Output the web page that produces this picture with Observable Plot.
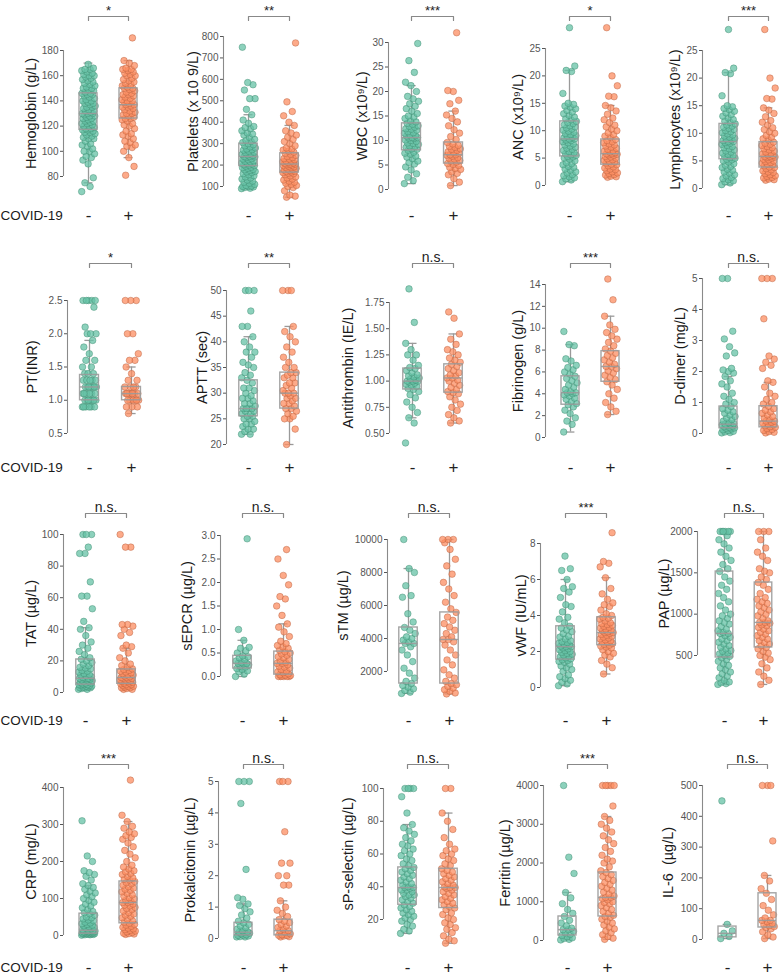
<!DOCTYPE html>
<html>
<head>
<meta charset="utf-8">
<script src="https://cdn.jsdelivr.net/npm/d3@7"></script>
<script src="https://cdn.jsdelivr.net/npm/@observablehq/plot@0.6"></script>
<style>
  html, body { margin: 0; padding: 0; background: #fff; }
  #wrap { position: relative; width: 781px; height: 979px; overflow: hidden; background: #fff; }
</style>
</head>
<body>
<div id="wrap"></div>
<script>
// ---------------- DATA ----------------
const groups = ["-", "+"];
const groupLabel = "COVID-19";

// box stats: [lower whisker, Q1, median, Q3, upper whisker]
const hemoglobinNeg = [68,72,75,79,90,93,95,96,98,100,100,102,104,105,106,108,110,110,111,112,113,114,115,115,116,117,117,118,118,119,120,120,121,122,122,123,124,124,125,126,126,127,128,128,129,130,130,130,131,132,132,133,134,135,135,136,137,138,138,139,140,140,141,142,143,144,145,145,146,146,147,148,149,150,150,151,152,153,154,155,156,157,158,159,160,160,161,162,163,164,165,165,166,169];
const hemoglobinPos = [81,88,95,100,103,104,105,107,108,110,112,113,114,116,118,120,121,122,124,125,126,126,127,128,129,130,130,131,132,133,134,135,135,136,137,137,138,139,140,140,141,142,143,144,145,145,146,147,148,149,150,150,151,152,153,154,155,156,157,158,160,160,161,162,163,164,165,165,166,168,170,172,190];
const hemoglobinBoxNeg = [75,117,130,146,170];
const hemoglobinBoxPos = [95,126,137,150,172];

const plateletsNeg = [90,92,95,98,100,100,102,105,110,115,120,125,130,135,140,145,150,155,160,165,168,170,175,178,180,185,188,190,195,198,200,202,205,208,210,215,218,220,225,228,230,235,238,240,240,245,248,250,255,258,260,265,270,272,275,280,285,290,295,300,305,310,315,320,330,340,345,350,360,370,375,380,395,410,435,460,510,510,550,575,585,750];
const plateletsPos = [50,55,60,80,95,100,105,110,115,120,125,130,135,140,145,150,155,160,162,165,168,170,172,175,178,180,182,185,188,190,192,195,198,200,202,205,205,208,210,212,215,218,220,225,228,230,235,240,245,250,255,260,265,270,275,280,290,300,310,320,330,340,350,360,385,400,430,450,495,770];
const plateletsBoxNeg = [90,195,240,300,435];
const plateletsBoxPos = [50,165,205,255,385];

const wbcNeg = [1.2,1.8,2.5,3.2,4,4.6,5.2,5.5,5.8,6.3,6.6,6.8,7.2,7.4,7.6,8,8.2,8.3,8.6,8.8,8.9,9.2,9.4,9.5,9.8,10,10.1,10.4,10.5,10.6,10.6,10.9,11,11.2,11.5,11.6,11.8,12.1,12.3,12.4,12.7,12.9,13,13.3,13.5,13.8,14,14.5,14.8,15,15.5,16,16.5,17,17.5,18,18.5,19,20,21.2,21.9,23.9,26.3,29.8];
const wbcPos = [0.8,1.5,2.2,3,3.3,3.6,4.1,4.3,4.5,4.9,5.1,5.3,5.6,5.8,5.9,6.2,6.4,6.5,6.8,7,7.1,7.1,7.4,7.6,7.7,8,8.2,8.3,8.6,8.8,9,9.3,9.6,10.2,10.8,11.5,12.2,13,13.8,14.5,15.2,16,17.5,18.2,20,20.2,32];
const wbcBoxNeg = [1.2,8,10.6,13.5,21.2];
const wbcBoxPos = [0.8,5.3,7.1,9.6,16];

const ancNeg = [0.7,1.0,1.2,1.4,1.6,1.8,2,2.3,2.5,2.8,3,3.3,3.5,3.8,4,4.2,4.5,4.8,5,5.2,5.3,5.5,5.6,5.8,6,6.2,6.4,6.6,6.8,7,7.2,7.4,7.6,7.8,8,8.2,8.3,8.5,8.5,8.7,8.8,9,9.1,9.3,9.5,9.7,9.9,10.1,10.3,10.5,10.7,10.9,11.1,11.3,11.5,11.7,12,12.2,12.5,12.8,13.1,13.4,13.7,14,14.3,14.5,14.8,15,16.8,20.8,21,21.8,28.8];
const ancPos = [1.5,1.6,1.7,1.9,2,2.2,2.3,2.5,2.7,2.9,3,3.2,3.4,3.6,3.8,3.9,4.1,4.3,4.4,4.6,4.7,4.9,5,5.2,5.3,5.5,5.6,5.7,5.8,5.8,6,6.1,6.3,6.4,6.6,6.8,7,7.2,7.4,7.6,7.8,8,8.2,8.4,8.8,9,9.3,9.6,10,10.3,10.7,11,11.5,12,12.3,13,13.6,14.2,14.6,16.2,16.3,18.2,20,28.8];
const ancBoxNeg = [0.7,5.3,8.5,11.7,21];
const ancBoxPos = [1.5,3.8,5.8,8.4,14.6];

const lymphNeg = [0.7,1.0,1.2,1.4,1.6,1.8,2,2.3,2.5,2.8,3,3.3,3.5,3.8,4,4.2,4.5,4.8,5,5.2,5.3,5.5,5.6,5.8,6,6.2,6.4,6.6,6.8,7,7.2,7.4,7.6,7.8,8,8.2,8.3,8.5,8.5,8.7,8.8,9,9.1,9.3,9.5,9.7,9.9,10.1,10.3,10.5,10.7,10.9,11.1,11.3,11.5,11.7,12,12.2,12.5,12.8,13.1,13.4,13.7,14,14.3,14.5,14.8,15,16.8,20.8,21,21.8,28.8];
const lymphPos = [1.5,1.6,1.7,1.9,2,2.2,2.3,2.5,2.7,2.9,3,3.2,3.4,3.6,3.8,3.9,4.1,4.3,4.4,4.6,4.7,4.9,5,5.2,5.3,5.5,5.6,5.7,5.8,5.8,6,6.1,6.3,6.4,6.6,6.8,7,7.2,7.4,7.6,7.8,8,8.2,8.4,8.8,9,9.3,9.6,10,10.3,10.7,11,11.5,12,12.3,13,13.6,14.2,14.6,16.2,16.3,18.2,20,28.8];
const lymphBoxNeg = [0.7,5.3,8.5,11.7,21];
const lymphBoxPos = [1.5,3.8,5.8,8.4,14.6];

const ptNeg = [0.9,0.9,0.9,0.9,0.9,0.9,1.0,1.0,1.0,1.0,1.0,1.0,1.0,1.1,1.1,1.1,1.1,1.1,1.1,1.2,1.2,1.2,1.2,1.2,1.2,1.2,1.3,1.3,1.3,1.3,1.3,1.4,1.4,1.4,1.5,1.5,1.6,1.6,1.7,1.8,1.9,2.0,2.0,2.0,2.1,2.4,2.5,2.5,2.5,2.5,2.5];
const ptPos = [0.8,0.9,0.9,0.9,1.0,1.0,1.0,1.0,1.0,1.0,1.1,1.1,1.1,1.1,1.1,1.1,1.1,1.2,1.2,1.2,1.2,1.3,1.3,1.4,1.5,1.6,1.6,1.7,2.0,2.0,2.5,2.5,2.5];
const ptBoxNeg = [0.9,1.0,1.2,1.38,1.9];
const ptBoxPos = [0.8,1.0,1.1,1.2,1.5];

const apttNeg = [22,22,22.5,23,23,23.5,24,24,24.5,25,25,25.5,25.5,26,26,26.5,26.5,27,27,27,27,27.5,28,28,28.5,29,29,29.5,30,30.5,31,31,32,32.5,33,33.5,34,35,35.5,36,37,38,38,39,40,41,43,43,46,50,50,50];
const apttPos = [20,23,25,25,25.5,26,26.5,27,27,27.5,28,28,28.5,29,29,29.5,30,30,30,30.5,31,31.5,32,32,33,33,33.5,34,34,35,35,36,37,38,39,40,41,42,43,50,50,50];
const apttBoxNeg = [22,25.5,27,32.5,41];
const apttBoxPos = [20,27,30,34,43];

const antithrombinNeg = [0.41,0.6,0.65,0.7,0.75,0.8,0.84,0.87,0.9,0.92,0.93,0.95,0.96,0.97,0.98,0.99,1.0,1.0,1.0,1.01,1.02,1.03,1.04,1.05,1.06,1.08,1.1,1.12,1.13,1.15,1.2,1.25,1.25,1.3,1.36,1.56,1.88];
const antithrombinPos = [0.6,0.62,0.65,0.68,0.72,0.75,0.78,0.82,0.85,0.88,0.89,0.9,0.92,0.94,0.96,0.98,1.0,1.01,1.03,1.03,1.05,1.06,1.08,1.1,1.12,1.14,1.16,1.18,1.2,1.22,1.25,1.28,1.3,1.35,1.4,1.45,1.6,1.66];
const antithrombinBoxNeg = [0.65,0.92,1.0,1.12,1.36];
const antithrombinBoxPos = [0.6,0.89,1.03,1.16,1.45];

const fibrinogenNeg = [0.5,1.2,1.5,1.8,2.2,2.5,2.8,3.0,3.1,3.3,3.5,3.6,3.8,3.9,4.0,4.1,4.1,4.2,4.4,4.6,4.8,5.0,5.2,5.4,5.6,5.8,6.0,6.2,6.4,6.6,7.0,7.2,8.4,8.5,9.7];
const fibrinogenPos = [2.1,2.4,2.8,3.2,3.6,4.0,4.4,4.8,5.1,5.3,5.5,5.7,5.9,6.1,6.3,6.5,6.5,6.7,6.9,7.1,7.3,7.5,7.7,7.9,8.1,8.4,8.7,9.0,9.3,9.6,9.9,10.3,11.1,12.6,14.5];
const fibrinogenBoxNeg = [0.5,3.0,4.1,5.6,8.5];
const fibrinogenBoxPos = [2.1,5.1,6.5,7.9,11.1];

const ddimerNeg = [0.02,0.03,0.05,0.07,0.1,0.12,0.15,0.17,0.18,0.2,0.22,0.24,0.26,0.28,0.3,0.3,0.32,0.35,0.4,0.45,0.5,0.55,0.6,0.65,0.7,0.75,0.8,0.87,0.95,1.0,1.1,1.2,1.3,1.5,1.6,1.7,1.84,1.95,2.0,2.05,2.1,2.5,2.6,2.8,3.05,3.3,5,5];
const ddimerPos = [0.02,0.04,0.06,0.1,0.13,0.16,0.2,0.22,0.25,0.28,0.3,0.33,0.36,0.4,0.4,0.45,0.5,0.55,0.6,0.65,0.7,0.75,0.8,0.88,0.95,1.0,1.1,1.2,1.3,1.5,1.65,1.7,2.1,2.2,2.3,2.4,2.5,3.7,5,5,5];
const ddimerBoxNeg = [0.02,0.17,0.3,0.87,1.84];
const ddimerBoxPos = [0.02,0.2,0.4,0.88,1.65];

const tatNeg = [2,2,2.5,3,3,3,3.5,3.5,4,4,4.5,4.5,5,5,5,5.5,6,6,6.5,7,7,7.5,8,8,8.5,9,9,9,9.5,10,10.5,11,11.5,12,13,13.5,14,15,15.5,16,17,18,19,20,21,22,24,26,28,30,32,36,40,41,45,53,61,61,70,88,88,92,100,100,100];
const tatPos = [2,2,2.5,3,3,3.5,4,4,4.5,5,5,5.5,6,6,6.5,7,7,7.5,8,8,8.5,9,9,9.5,9.5,10,10.5,11,11.5,12,12.5,13,13.5,14,14.6,15,16,17,18,20,22,25,28,29,30,36,38,40,42,43,43,92,92,100];
const tatBoxNeg = [2,5,9,20.9,41];
const tatBoxPos = [2,5.5,9.5,14.6,28];

const sepcrNeg = [0,0.05,0.1,0.12,0.15,0.17,0.2,0.22,0.25,0.27,0.28,0.28,0.3,0.33,0.36,0.4,0.42,0.44,0.5,0.55,0.6,0.62,0.77,1.0,2.93];
const sepcrPos = [0,0,0,0,0,0.01,0.02,0.03,0.04,0.06,0.08,0.1,0.12,0.15,0.18,0.2,0.22,0.25,0.28,0.28,0.3,0.33,0.36,0.4,0.42,0.45,0.48,0.5,0.53,0.56,0.6,0.63,0.66,0.7,0.75,0.85,0.95,1.05,1.12,1.3,1.5,1.65,1.7,1.95,2.15,2.5,2.7];
const sepcrBoxNeg = [0,0.17,0.28,0.44,0.77];
const sepcrBoxPos = [0,0.04,0.28,0.53,1.12];

const stmNeg = [670,750,850,950,1050,1150,1270,1400,1600,1900,2200,2600,3000,3300,3500,3700,3700,3800,3900,4000,4100,4300,4500,4667,5000,5500,6500,6600,7200,8000,8240,10000];
const stmPos = [640,700,800,900,1000,1100,1200,1270,1400,1600,1800,2100,2400,2700,3000,3300,3600,3800,3940,3940,4100,4300,4500,4700,4900,5100,5300,5580,5800,6200,6600,7000,7400,7900,8400,8800,9400,9800,10000,10000,10000];
const stmBoxNeg = [670,1270,3700,4667,8240];
const stmBoxPos = [640,1270,3940,5580,10000];

const vwfNeg = [0.1,0.2,0.3,0.4,0.5,0.6,0.7,0.9,1.0,1.1,1.2,1.3,1.4,1.45,1.5,1.55,1.6,1.65,1.7,1.75,1.8,1.85,1.9,1.95,2.0,2.05,2.1,2.15,2.2,2.27,2.27,2.3,2.35,2.4,2.45,2.5,2.55,2.6,2.7,2.8,2.85,3.0,3.1,3.2,3.3,3.4,3.6,3.8,3.9,4.2,4.5,4.6,5.0,5.3,5.5,5.6,6.0,6.5,6.6,7.3];
const vwfPos = [0.75,1.1,1.3,1.5,1.7,1.8,1.9,2.0,2.1,2.2,2.25,2.3,2.35,2.4,2.45,2.5,2.55,2.6,2.65,2.7,2.75,2.8,2.85,2.9,2.95,3.0,3.05,3.05,3.1,3.15,3.2,3.25,3.3,3.35,3.4,3.45,3.5,3.55,3.6,3.7,3.8,3.85,3.9,4.0,4.1,4.3,4.5,4.6,4.7,4.9,5.2,5.5,6.1,6.7,6.9,7.0,8.6];
const vwfBoxNeg = [0.1,1.55,2.27,3.4,6.0];
const vwfBoxPos = [0.75,2.35,3.05,3.9,6.1];

const papNeg = [150,160,170,180,200,230,250,280,300,330,350,380,400,430,450,476,490,500,520,530,550,560,580,600,620,640,660,680,700,720,740,767,767,780,800,820,850,880,900,920,950,980,1000,1050,1100,1150,1200,1250,1300,1350,1400,1450,1516,1550,1600,1650,1700,1750,1800,1850,1900,1950,2000,2000,2000,2000,2000,2000];
const papPos = [150,200,250,300,350,400,450,480,500,530,550,580,597,620,640,660,680,700,720,740,760,780,800,820,840,860,870,890,900,900,920,950,980,1000,1030,1050,1080,1100,1130,1150,1180,1200,1250,1300,1350,1383,1420,1450,1500,1520,1550,1650,1700,1750,1800,1900,2000,2000,2000];
const papBoxNeg = [150,476,767,1516,2000];
const papBoxPos = [150,597,900,1383,2000];

const crpNeg = [1,2,2,3,3,4,4,5,5,5,6,6,7,7,8,8,9,10,10,11,12,12,13,14,14,15,16,18,20,22,24,26,28,30,32,34,36,40,42,45,48,50,55,59,62,65,70,75,80,85,90,95,100,105,110,115,120,125,130,135,140,150,160,165,170,175,200,215,310];
const crpPos = [3,4,5,6,8,10,12,14,16,18,20,22,25,28,30,33,36,40,44,48,52,55,58,62,66,70,73,76,80,82,85,89,89,92,95,99,102,106,110,114,118,122,125,128,132,136,140,143,146,150,152,156,160,165,168,172,175,180,185,190,200,210,220,230,240,250,260,265,270,275,280,290,295,308,325,420];
const crpBoxNeg = [0,5,14,59,135];
const crpBoxPos = [3,33,89,146,308];

const pctNeg = [0.05,0.05,0.06,0.08,0.1,0.1,0.12,0.15,0.17,0.2,0.2,0.22,0.25,0.3,0.35,0.4,0.45,0.5,0.55,0.65,0.75,0.85,0.95,1.05,1.1,1.25,1.3,2.2,4.3,5,5,5];
const pctPos = [0.05,0.06,0.08,0.1,0.1,0.12,0.15,0.2,0.25,0.25,0.3,0.35,0.4,0.45,0.5,0.55,0.6,0.7,0.8,0.9,1.0,1.2,1.7,1.7,2.0,2.0,2.4,2.4,3.4,5,5,5];
const pctBoxNeg = [0.05,0.1,0.2,0.5,1.1];
const pctBoxPos = [0.05,0.1,0.25,0.6,1.2];

const pselNeg = [11.5,13,14,16,17,19,20,21,22,23,24,25,26,27,28,29,30,31,32,33,34,35,35,36,37,38,38,39,39.5,39.5,40,41,42,43,44,45,46,47,48,49,50,51,51.8,53,54,56,57,59,60,62,63,65,66,68,70,72,74,76,78,85,95,100,100,100,100];
const pselPos = [5.5,7,8,10,12,14,15,17,18,20,21,23,24,26,27,28,29,30,31,32,33,34,35,36,37,38,39,39.5,39.5,40,41,42,43,44,45,46,47,48,49,50,51,53,54,56,57,59,60,62,63,66,70,75,80,85,100,100];
const pselBoxNeg = [11.5,29,39.5,51.8,78];
const pselBoxPos = [5.5,27,39.5,51,85];

const ferritinNeg = [15,30,50,70,100,130,160,200,240,280,280,320,380,450,520,620,700,800,950,1100,1240,1730,2150,4000];
const ferritinPos = [30,60,100,150,200,250,300,350,400,450,500,550,600,620,650,700,750,800,850,900,950,980,1000,1050,1080,1110,1110,1150,1200,1250,1300,1350,1400,1450,1500,1550,1600,1650,1700,1755,1800,1900,2000,2050,2100,2200,2300,2400,2500,2600,2700,2800,2900,3000,3100,3200,3470,4000,4000,4000,4000,4000];
const ferritinBoxNeg = [15,130,280,620,1240];
const ferritinBoxPos = [30,620,1110,1755,3200];

const il6Neg = [3,10,20,28,49,450];
const il6Pos = [3,8,15,25,35,39,42,45,48,52,58,62,62,70,80,95,110,130,150,165,190,208,320,500,500,500];
const il6BoxNeg = [3,7,20,42,49];
const il6BoxPos = [3,39,62,150,208];

// tick labels / axis titles / significance
const titles = ["Hemoglobin (g/L)","Platelets (x 10 9/L)","WBC (x10\u2079/L)","ANC (x10\u2079/L)","Lymphocytes (x10\u2079/L)",
  "PT(INR)","APTT (sec)","Antithrombin (IE/L)","Fibrinogen (g/L)","D-dimer (mg/L)",
  "TAT (\u00b5g/L)","sEPCR (\u00b5g/L)","sTM (\u00b5g/L)","vWF (IU/mL)","PAP (\u00b5g/L)",
  "CRP (mg/L)","Prokalcitonin (\u00b5g/L)","sP-selectin (\u00b5g/L)","Ferritin (\u00b5g/L)","IL-6\u00a0 (\u00b5g/L)"];
const sig = ["*","**","***","*","***", "*","**","n.s.","***","n.s.", "n.s.","n.s.","n.s.","***","n.s.", "***","n.s.","n.s.","***","n.s."];
const tickSets = [
  [80,100,120,140,160,180],[100,200,300,400,500,600,700,800],[0,5,10,15,20,25,30],[0,5,10,15,20,25],[0,5,10,15,20,25],
  [0.5,1.0,1.5,2.0,2.5],[20,25,30,35,40,45,50],[0.5,0.75,1.0,1.25,1.5,1.75],[0,2,4,6,8,10,12,14],[0,1,2,3,4,5],
  [0,20,40,60,80,100],[0,0.5,1.0,1.5,2.0,2.5,3.0],[2000,4000,6000,8000,10000],[0,2,4,6,8],[500,1000,1500,2000],
  [0,100,200,300,400],[0,1,2,3,4,5],[20,40,60,80,100],[0,1000,2000,3000,4000],[0,100,200,300,400,500]];
const tickFormats = ["d","d","d","d","d", ".1f","d",".2f","d","d", "d",".1f","d","d","d", "d","d","d","d","d"];

const seriesNeg = [hemoglobinNeg,plateletsNeg,wbcNeg,ancNeg,lymphNeg,ptNeg,apttNeg,antithrombinNeg,fibrinogenNeg,ddimerNeg,tatNeg,sepcrNeg,stmNeg,vwfNeg,papNeg,crpNeg,pctNeg,pselNeg,ferritinNeg,il6Neg];
const seriesPos = [hemoglobinPos,plateletsPos,wbcPos,ancPos,lymphPos,ptPos,apttPos,antithrombinPos,fibrinogenPos,ddimerPos,tatPos,sepcrPos,stmPos,vwfPos,papPos,crpPos,pctPos,pselPos,ferritinPos,il6Pos];
const boxNeg = [hemoglobinBoxNeg,plateletsBoxNeg,wbcBoxNeg,ancBoxNeg,lymphBoxNeg,ptBoxNeg,apttBoxNeg,antithrombinBoxNeg,fibrinogenBoxNeg,ddimerBoxNeg,tatBoxNeg,sepcrBoxNeg,stmBoxNeg,vwfBoxNeg,papBoxNeg,crpBoxNeg,pctBoxNeg,pselBoxNeg,ferritinBoxNeg,il6BoxNeg];
const boxPos = [hemoglobinBoxPos,plateletsBoxPos,wbcBoxPos,ancBoxPos,lymphBoxPos,ptBoxPos,apttBoxPos,antithrombinBoxPos,fibrinogenBoxPos,ddimerBoxPos,tatBoxPos,sepcrBoxPos,stmBoxPos,vwfBoxPos,papBoxPos,crpBoxPos,pctBoxPos,pselBoxPos,ferritinBoxPos,il6BoxPos];

// ---------------- LAYOUT (pixel geometry of the page) ----------------
const rowTop = [0, 250, 500, 750];
const rowH = [250, 250, 250, 229];
const colLeft = [0, 156, 312, 468, 624];
const rowBracket = [16, 263, 513, 764];
const rowXLabel = [215, 467, 720, 967];
// per panel: axis line x, "-" centre, "+" centre, y of top tick, y of bottom tick, y-title centre x
const geom = [
  [63,88,128,50,176,31],[223,248,289,36,186,193],[388,411,453,42,189,362],[545,569,610,48,185,518],[702,728,768,50,188,675],
  [67,89,131,300,433,32],[226,248,289,290,444,202],[389,412,453,302,433,348],[545,570,610,284,437,518],[702,728,768,278,433,680],
  [63,85,126,534,692,31],[220,242,283,535,676,187],[387,408,449,539,671,343],[540,565,606,543,687,521],[697,724,763,531,655,664],
  [63,88,128,787,935,31],[218,243,283,781,938,190],[383,407,448,788,919,348],[543,567,607,785,940,505],[702,727,767,785,939,668]];

const FONT = "'Liberation Sans', Arial, Helvetica, sans-serif";
const negFill = "#66c2a5", negStroke = "#3e8a6f";
const posFill = "#fc8d62", posStroke = "#b8603e";
const boxColor = "#9a9a9a";

function jit(i, g) { return (((i * 0.6180339887 + g * 0.29) % 1) - 0.5) * 0.34; }

const wrap = document.getElementById("wrap");

for (let k = 0; k < 20; k++) {
  const row = Math.floor(k / 5), col = k % 5;
  const [ax, nx, px, ty, by, lx] = geom[k];
  const cl = colLeft[col], rt = rowTop[row], H = rowH[row], W = 157;
  const ticks = tickSets[k];
  const t0 = ticks[0], t1 = ticks[ticks.length - 1];
  const yInv = py => t0 + (by - py) * (t1 - t0) / (by - ty);
  const xInv = pxl => 1 + (pxl - nx) / (px - nx);

  const negPts = seriesNeg[k].map((v, i) => ({v, i}));
  const posPts = seriesPos[k].map((v, i) => ({v, i}));
  const boxes = [{g: 1, s: boxNeg[k]}, {g: 2, s: boxPos[k]}];
  const bw = 0.225, cw = 0.11;
  const bY = rowBracket[row];

  const marks = [
    Plot.ruleX([xInv(ax)], {y1: t0, y2: t1, stroke: "#8a8a8a", strokeWidth: 1.1}),
    Plot.axisY({ticks, tickSize: 3, tickPadding: 2, fontSize: 10, label: null, color: "#555", tickFormat: d3.format(tickFormats[k])}),
    Plot.ruleX(boxes, {x: "g", y1: d => d.s[3], y2: d => d.s[4], stroke: boxColor, strokeWidth: 1.3}),
    Plot.ruleX(boxes, {x: "g", y1: d => d.s[0], y2: d => d.s[1], stroke: boxColor, strokeWidth: 1.3}),
    Plot.ruleY(boxes, {y: d => d.s[4], x1: d => d.g - cw, x2: d => d.g + cw, stroke: boxColor, strokeWidth: 1.3}),
    Plot.ruleY(boxes, {y: d => d.s[0], x1: d => d.g - cw, x2: d => d.g + cw, stroke: boxColor, strokeWidth: 1.3}),
    Plot.dot(negPts, {x: d => 1 + jit(d.i, 0), y: "v", r: 3.3, fill: negFill, fillOpacity: 0.75, stroke: negStroke, strokeWidth: 0.6, strokeOpacity: 0.75}),
    Plot.dot(posPts, {x: d => 2 + jit(d.i, 1), y: "v", r: 3.3, fill: posFill, fillOpacity: 0.75, stroke: posStroke, strokeWidth: 0.6, strokeOpacity: 0.75}),
    Plot.rect(boxes, {x1: d => d.g - bw, x2: d => d.g + bw, y1: d => d.s[1], y2: d => d.s[3], fill: "none", stroke: boxColor, strokeWidth: 1.4, strokeOpacity: 0.9}),
    Plot.ruleY(boxes, {y: d => d.s[2], x1: d => d.g - bw, x2: d => d.g + bw, stroke: boxColor, strokeWidth: 1.4, strokeOpacity: 0.9}),
    Plot.line([[1, yInv(bY + 4)], [1, yInv(bY)], [2, yInv(bY)], [2, yInv(bY + 4)]], {stroke: "#888", strokeWidth: 1.2}),
    Plot.text([sig[k]], {x: 1.5, y: yInv(bY - 2), lineAnchor: "bottom", fontSize: sig[k] === "n.s." ? 14 : 13, fill: "#222"}),
    Plot.text(groups, {x: (d, i) => i + 1, y: yInv(rowXLabel[row]), fontSize: 17, fill: "#222"}),
    Plot.text([titles[k]], {x: xInv(lx), y: (t0 + t1) / 2, rotate: -90, fontSize: 14.5, fill: "#1a1a1a"})
  ];
  if (col === 0) {
    marks.push(Plot.text([groupLabel], {x: xInv(0), y: yInv(rowXLabel[row]), textAnchor: "start", fontSize: 13.5, fill: "#1a1a1a"}));
  }

  const svg = Plot.plot({
    width: W, height: H,
    marginLeft: ax - cl, marginRight: 10,
    marginTop: ty - rt, marginBottom: H - (by - rt),
    x: {type: "linear", domain: [1, 2], range: [nx - cl, px - cl], axis: null},
    y: {type: "linear", domain: [t0, t1]},
    style: {fontFamily: FONT, background: "transparent", overflow: "visible"},
    marks
  });
  svg.style.position = "absolute";
  svg.style.left = cl + "px";
  svg.style.top = rt + "px";
  svg.style.overflow = "visible";
  wrap.appendChild(svg);
}
</script>
</body>
</html>
